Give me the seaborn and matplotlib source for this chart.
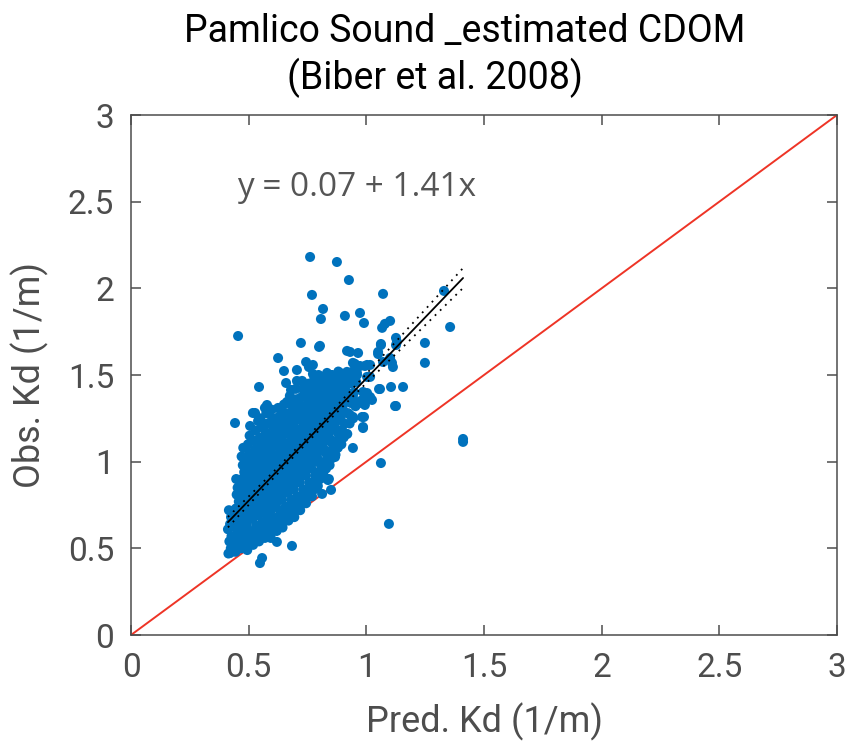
import numpy as np
import pandas as pd
import seaborn as sns
import matplotlib
matplotlib.use("Agg")
import matplotlib.pyplot as plt

# ---------------- data ----------------
# dense core of the cloud, written column by column
pred_core = [
    0.414, 0.424, 0.418, 0.427, 0.412, 0.421, 0.425, 0.416,
    0.444, 0.454, 0.448, 0.457, 0.442, 0.451, 0.455, 0.446, 0.458, 0.449, 0.453, 0.447,
    0.469, 0.479, 0.473, 0.482, 0.467, 0.476, 0.480, 0.471, 0.483, 0.474, 0.478, 0.472, 0.481, 0.475, 0.470, 0.477,
    0.494, 0.504, 0.498, 0.507, 0.492, 0.501, 0.505, 0.496, 0.508, 0.499, 0.503, 0.497, 0.506, 0.500, 0.495, 0.502, 0.497, 0.504,
    0.519, 0.529, 0.523, 0.532, 0.517, 0.526, 0.530, 0.521, 0.533, 0.524, 0.528, 0.522, 0.531, 0.525, 0.520, 0.527, 0.522, 0.529,
    0.544, 0.554, 0.548, 0.557, 0.542, 0.551, 0.555, 0.546, 0.558, 0.549, 0.553, 0.547, 0.556, 0.550, 0.545, 0.552, 0.547, 0.554, 0.550,
    0.569, 0.579, 0.573, 0.582, 0.567, 0.576, 0.580, 0.571, 0.583, 0.574, 0.578, 0.572, 0.581, 0.575, 0.570, 0.577, 0.572, 0.579, 0.575,
    0.594, 0.604, 0.598, 0.607, 0.592, 0.601, 0.605, 0.596, 0.608, 0.599, 0.603, 0.597, 0.606, 0.600, 0.595, 0.602, 0.597, 0.604, 0.600, 0.598,
    0.619, 0.629, 0.623, 0.632, 0.617, 0.626, 0.630, 0.621, 0.633, 0.624, 0.628, 0.622, 0.631, 0.625, 0.620, 0.627, 0.622, 0.629, 0.625,
    0.644, 0.654, 0.648, 0.657, 0.642, 0.651, 0.655, 0.646, 0.658, 0.649, 0.653, 0.647, 0.656, 0.650, 0.645, 0.652, 0.647, 0.654, 0.650,
    0.669, 0.679, 0.673, 0.682, 0.667, 0.676, 0.680, 0.671, 0.683, 0.674, 0.678, 0.672, 0.681, 0.675, 0.670, 0.677, 0.672, 0.679, 0.675,
    0.694, 0.704, 0.698, 0.707, 0.692, 0.701, 0.705, 0.696, 0.708, 0.699, 0.703, 0.697, 0.706, 0.700, 0.695, 0.702, 0.697, 0.704, 0.700,
    0.719, 0.729, 0.723, 0.732, 0.717, 0.726, 0.730, 0.721, 0.733, 0.724, 0.728, 0.722, 0.731, 0.725, 0.720, 0.727, 0.722, 0.729,
    0.744, 0.754, 0.748, 0.757, 0.742, 0.751, 0.755, 0.746, 0.758, 0.749, 0.753, 0.747, 0.756, 0.750, 0.745, 0.752, 0.747, 0.754,
    0.769, 0.779, 0.773, 0.782, 0.767, 0.776, 0.780, 0.771, 0.783, 0.774, 0.778, 0.772, 0.781, 0.775, 0.770, 0.777, 0.772, 0.779,
    0.794, 0.804, 0.798, 0.807, 0.792, 0.801, 0.805, 0.796, 0.808, 0.799, 0.803, 0.797, 0.806, 0.800, 0.795, 0.802, 0.797,
    0.819, 0.829, 0.823, 0.832, 0.817, 0.826, 0.830, 0.821, 0.833, 0.824, 0.828, 0.822, 0.831, 0.825, 0.820,
    0.844, 0.854, 0.848, 0.857, 0.842, 0.851, 0.855, 0.846, 0.858, 0.849, 0.853, 0.847, 0.856, 0.850,
    0.869, 0.879, 0.873, 0.882, 0.867, 0.876, 0.880, 0.871, 0.883, 0.874, 0.878, 0.872, 0.881,
    0.894, 0.904, 0.898, 0.907, 0.892, 0.901, 0.905, 0.896, 0.908, 0.899, 0.903,
    0.919, 0.929, 0.923, 0.932, 0.917, 0.926, 0.930,
    0.944, 0.954, 0.948, 0.957, 0.942,
]
obs_core = [
    0.47, 0.50, 0.54, 0.57, 0.61, 0.64, 0.68, 0.72,
    0.48, 0.52, 0.55, 0.59, 0.62, 0.66, 0.69, 0.73, 0.77, 0.81, 0.85, 0.90,
    0.50, 0.54, 0.58, 0.61, 0.65, 0.68, 0.72, 0.75, 0.79, 0.82, 0.86, 0.90, 0.94, 0.98, 1.03, 1.08,
    0.49, 0.53, 0.57, 0.60, 0.64, 0.67, 0.71, 0.74, 0.78, 0.81, 0.85, 0.88, 0.92, 0.96, 1.00, 1.05, 1.10, 1.15,
    0.52, 0.56, 0.60, 0.63, 0.67, 0.70, 0.74, 0.77, 0.81, 0.84, 0.88, 0.91, 0.95, 0.99, 1.03, 1.07, 1.12, 1.18,
    0.54, 0.58, 0.62, 0.65, 0.69, 0.72, 0.76, 0.79, 0.83, 0.86, 0.90, 0.93, 0.97, 1.01, 1.05, 1.09, 1.14, 1.20, 1.25,
    0.56, 0.60, 0.64, 0.68, 0.71, 0.75, 0.78, 0.82, 0.85, 0.89, 0.92, 0.96, 1.00, 1.04, 1.08, 1.12, 1.17, 1.22, 1.28,
    0.56, 0.60, 0.63, 0.67, 0.71, 0.74, 0.78, 0.81, 0.85, 0.88, 0.92, 0.95, 0.99, 1.03, 1.07, 1.11, 1.15, 1.20, 1.25, 1.30,
    0.60, 0.64, 0.68, 0.72, 0.76, 0.80, 0.83, 0.87, 0.90, 0.94, 0.97, 1.01, 1.05, 1.09, 1.13, 1.17, 1.21, 1.26, 1.31,
    0.62, 0.66, 0.70, 0.74, 0.78, 0.82, 0.86, 0.89, 0.93, 0.96, 1.00, 1.03, 1.07, 1.11, 1.15, 1.19, 1.23, 1.28, 1.33,
    0.66, 0.70, 0.74, 0.78, 0.82, 0.86, 0.90, 0.93, 0.97, 1.00, 1.04, 1.08, 1.12, 1.16, 1.20, 1.24, 1.28, 1.33, 1.38,
    0.68, 0.72, 0.76, 0.80, 0.84, 0.88, 0.92, 0.96, 0.99, 1.03, 1.07, 1.11, 1.15, 1.19, 1.23, 1.27, 1.31, 1.36, 1.42,
    0.72, 0.76, 0.80, 0.84, 0.88, 0.92, 0.96, 1.00, 1.04, 1.08, 1.12, 1.16, 1.20, 1.24, 1.28, 1.32, 1.37, 1.42,
    0.76, 0.80, 0.84, 0.88, 0.92, 0.96, 1.00, 1.04, 1.08, 1.12, 1.16, 1.20, 1.24, 1.28, 1.32, 1.36, 1.40, 1.45,
    0.80, 0.84, 0.88, 0.92, 0.96, 1.00, 1.04, 1.08, 1.12, 1.16, 1.20, 1.24, 1.28, 1.32, 1.36, 1.40, 1.44, 1.48,
    0.86, 0.90, 0.94, 0.98, 1.02, 1.06, 1.10, 1.14, 1.18, 1.22, 1.26, 1.30, 1.34, 1.38, 1.42, 1.46, 1.50,
    0.92, 0.96, 1.00, 1.04, 1.08, 1.12, 1.16, 1.20, 1.24, 1.28, 1.32, 1.36, 1.40, 1.44, 1.48,
    0.98, 1.02, 1.06, 1.10, 1.14, 1.18, 1.22, 1.26, 1.30, 1.34, 1.38, 1.42, 1.46, 1.50,
    1.04, 1.08, 1.12, 1.16, 1.20, 1.24, 1.28, 1.32, 1.36, 1.40, 1.44, 1.48, 1.52,
    1.10, 1.14, 1.18, 1.22, 1.26, 1.30, 1.34, 1.38, 1.42, 1.46, 1.50,
    1.16, 1.22, 1.28, 1.34, 1.40, 1.45, 1.50,
    1.25, 1.32, 1.40, 1.46, 1.52,
]

# scattered points around the core
pred_sparse = [
    0.761, 0.875, 0.926, 0.769, 0.816, 0.807, 0.909, 0.455, 0.722, 0.799,
    0.918, 0.625, 0.744, 0.773, 0.705, 0.650, 0.756, 0.773, 0.659, 0.544,
    0.680, 0.705, 0.727, 0.739, 0.578, 0.569, 0.663, 0.714, 0.527, 0.620,
    0.540, 0.506, 0.557, 0.442, 0.518,
    1.071, 1.330, 0.973, 0.990, 1.101, 1.079, 1.067, 1.356, 1.126, 1.130,
    1.062, 1.249, 1.050, 0.965, 0.931, 1.249, 1.101, 1.113, 0.994, 1.016,
    0.952, 0.960, 1.016, 1.054, 1.105, 1.156, 0.986, 1.016, 0.973, 1.126,
    0.994,
    0.803, 1.062, 1.126, 1.050, 1.071, 0.943, 1.003, 1.109, 0.973, 0.952,
    0.918, 0.888, 0.854, 0.833, 0.803, 0.858, 0.960, 1.003, 0.922, 1.058,
    1.122, 1.024, 0.982, 1.003, 0.939, 0.888, 0.833, 0.858, 0.909, 0.824,
    0.875, 0.943, 0.803, 0.875, 0.931, 0.982, 0.986, 0.833, 0.888, 0.803,
    1.411, 1.411, 1.062, 1.096, 0.943, 0.986, 0.990, 0.943, 0.939, 0.973,
    0.867, 0.841, 0.850, 0.812, 0.837,
    0.684, 0.557, 0.548, 0.421, 0.620,
]
obs_sparse = [
    2.181, 2.152, 2.048, 1.962, 1.881, 1.823, 1.841, 1.725, 1.685, 1.662,
    1.639, 1.598, 1.575, 1.558, 1.529, 1.523, 1.546, 1.506, 1.454, 1.431,
    1.414, 1.466, 1.466, 1.431, 1.327, 1.310, 1.345, 1.356, 1.281, 1.246,
    1.235, 1.206, 1.200, 1.223, 1.281,
    1.968, 1.985, 1.858, 1.800, 1.812, 1.795, 1.772, 1.777, 1.714, 1.691,
    1.679, 1.685, 1.633, 1.627, 1.633, 1.570, 1.598, 1.546, 1.552, 1.558,
    1.564, 1.512, 1.489, 1.419, 1.431, 1.431, 1.402, 1.373, 1.339, 1.321,
    1.327,
    1.668, 1.673, 1.673, 1.621, 1.575, 1.570, 1.558, 1.570, 1.552, 1.529,
    1.518, 1.512, 1.500, 1.512, 1.471, 1.471, 1.500, 1.489, 1.471, 1.419,
    1.321, 1.356, 1.356, 1.396, 1.454, 1.431, 1.425, 1.396, 1.396, 1.356,
    1.345, 1.373, 1.316, 1.310, 1.269, 1.258, 1.200, 1.269, 1.241, 1.241,
    1.131, 1.114, 0.992, 0.641, 1.079, 1.194, 1.258, 1.258, 1.339, 1.345,
    1.027, 0.900, 0.837, 0.814, 0.894,
    0.514, 0.444, 0.415, 0.473, 0.537,
]

fit_intercept = 0.07
fit_slope = 1.41
equation_label = "y = 0.07 + 1.41x"

tick_values = [0, 0.5, 1, 1.5, 2, 2.5, 3]
tick_labels = ["0", "0.5", "1", "1.5", "2", "2.5", "3"]
title_line1 = "Pamlico Sound _estimated CDOM"
title_line2 = "(Biber et al. 2008)"
x_label = "Pred. Kd (1/m)"
y_label = "Obs. Kd (1/m)"

# ---------------- figure ----------------
sns.set_theme(style="white")
plt.rcParams["font.family"] = ["Roboto", "DejaVu Sans"]

df = pd.DataFrame({
    "pred": pred_core + pred_sparse,
    "obs": obs_core + obs_sparse,
})

fig = plt.figure(figsize=(8.48, 7.51), dpi=100)
ax = fig.add_axes([131 / 848, 116 / 751, (837 - 131) / 848, (635 - 115) / 751])

axis_grey = "#4d4d4d"
text_grey = "#4d4d4d"

# 1:1 line
one_to_one = pd.DataFrame({"x": [0, 3], "y": [0, 3]})
sns.lineplot(data=one_to_one, x="x", y="y", ax=ax, color="#ee3426", lw=1.4, zorder=1)

sns.scatterplot(data=df, x="pred", y="obs", ax=ax, color="#0072BD", s=52,
                edgecolor="none", linewidth=0, zorder=2)

# fitted line and confidence bounds
x = df["pred"].to_numpy()
y = df["obs"].to_numpy()
n = len(x)
resid = y - (fit_intercept + fit_slope * x)
s = np.sqrt(np.sum(resid ** 2) / (n - 2))
sxx = np.sum((x - x.mean()) ** 2)
xf = np.linspace(x.min(), x.max(), 60)
yf = fit_intercept + fit_slope * xf
half = 1.3 * s * np.sqrt(1.0 / n + (xf - x.mean()) ** 2 / sxx)
fit_df = pd.DataFrame({"x": xf, "y": yf, "lo": yf - half, "hi": yf + half})
sns.lineplot(data=fit_df, x="x", y="y", ax=ax, color="black", lw=1.3, zorder=4)
sns.lineplot(data=fit_df, x="x", y="lo", ax=ax, color="black", lw=1.3,
             linestyle=(0, (1.0, 3.0)), zorder=4)
sns.lineplot(data=fit_df, x="x", y="hi", ax=ax, color="black", lw=1.3,
             linestyle=(0, (1.0, 3.0)), zorder=4)

ax.set_xlim(0, 3)
ax.set_ylim(0, 3)
ax.set_xticks(tick_values)
ax.set_yticks(tick_values)
ax.set_xticklabels(tick_labels)
ax.set_yticklabels(tick_labels)
ax.tick_params(axis="both", which="both", direction="in", length=7, width=1.1,
               colors=axis_grey, labelsize=24, top=True, right=True,
               bottom=True, left=True, pad=12)
for sp in ax.spines.values():
    sp.set_visible(True)
    sp.set_color(axis_grey)
    sp.set_linewidth(1.1)

ax.set_xlabel(x_label, fontsize=26, color=text_grey, labelpad=14)
ax.set_ylabel(y_label, fontsize=26, color=text_grey, labelpad=14)

ax.text(0.45, 2.58, equation_label, fontsize=24, color="#555555",
        family=["Open Sans", "DejaVu Sans"], va="center", ha="left")

fig.text(465 / 848, 1 - 42 / 751, title_line1, fontsize=27, color="black",
         ha="center", va="baseline")
fig.text(435 / 848, 1 - 89 / 751, title_line2, fontsize=27, color="black",
         ha="center", va="baseline")

fig.savefig("out.png", dpi=100)
